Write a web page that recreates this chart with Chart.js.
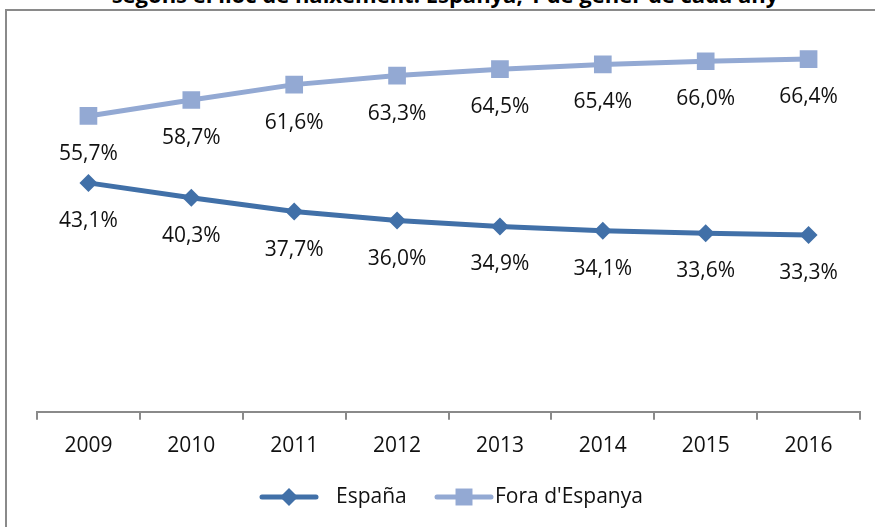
<!DOCTYPE html>
<html>
<head>
<meta charset="utf-8">
<script src="https://cdn.jsdelivr.net/npm/chart.js@4/dist/chart.umd.min.js"></script>
<style>
  html, body { margin: 0; padding: 0; background: #fff; overflow: hidden; }
  body { width: 875px; height: 527px; position: relative; font-family: 'Open Sans', sans-serif; }
  .title { position: absolute; left: 0; width: 890px; top: -17px; text-align: center; font-weight: bold; font-size: 22px; line-height: 22px; color: #000; white-space: nowrap; }
  .frame { position: absolute; left: 5px; top: 9px; width: 900px; height: 600px; border: 2px solid #8a8a8a; box-sizing: border-box; }
  .wrap { position: absolute; left: 0; top: 0; width: 875px; height: 527px; }
</style>
</head>
<body>
<div class="title">segons el lloc de naixement. Espanya, 1 de gener de cada any</div>
<div class="frame"></div>
<div class="wrap"><canvas id="chart" width="875" height="527"></canvas></div>
<script>
const years = ['2009', '2010', '2011', '2012', '2013', '2014', '2015', '2016'];
const espanya = [43.1, 40.3, 37.7, 36.0, 34.9, 34.1, 33.6, 33.3];
const foraEspanya = [55.7, 58.7, 61.6, 63.3, 64.5, 65.4, 66.0, 66.4];
const seriesNames = ['España', "Fora d'Espanya"];

const darkBlue = '#4170a8';
const lightBlue = '#93a9d3';
const font = "'Open Sans', sans-serif";

function fmt(v) {
  return v.toFixed(1).replace('.', ',') + '%';
}

// value labels under each point
const valueLabels = {
  id: 'valueLabels',
  afterDatasetsDraw(chart) {
    const ctx = chart.ctx;
    ctx.save();
    ctx.font = '21px ' + font;
    ctx.fillStyle = '#111';
    ctx.textAlign = 'center';
    ctx.textBaseline = 'middle';
    chart.data.datasets.forEach((ds, i) => {
      chart.getDatasetMeta(i).data.forEach((pt, j) => {
        ctx.fillText(fmt(ds.data[j]), pt.x, pt.y + 38);
      });
    });
    ctx.restore();
  }
};

// legend: line with marker in the middle, like the office chart
const lineLegend = {
  id: 'lineLegend',
  afterDraw(chart) {
    const ctx = chart.ctx;
    const y = 497;
    const items = [
      { x: 262, text: seriesNames[0], color: darkBlue, style: 'rectRot', r: 9, gap: 20 },
      { x: 437, text: seriesNames[1], color: lightBlue, style: 'rect', r: 12, gap: 4 },
    ];
    ctx.save();
    ctx.font = '21px ' + font;
    ctx.textBaseline = 'middle';
    items.forEach(it => {
      ctx.strokeStyle = it.color;
      ctx.lineWidth = 5;
      ctx.lineCap = 'round';
      ctx.beginPath();
      ctx.moveTo(it.x, y);
      ctx.lineTo(it.x + 54, y);
      ctx.stroke();
      ctx.fillStyle = it.color;
      Chart.helpers.drawPoint(ctx, { pointStyle: it.style, radius: it.r, borderWidth: 0 }, it.x + 27, y);
      ctx.fillStyle = '#111';
      ctx.fillText(it.text, it.x + 54 + it.gap, y);
    });
    ctx.restore();
  }
};

new Chart(document.getElementById('chart'), {
  type: 'line',
  data: {
    labels: years,
    datasets: [
      { label: seriesNames[0], data: espanya, borderColor: darkBlue, backgroundColor: darkBlue, borderWidth: 5, pointStyle: 'rectRot', pointRadius: 9, pointBorderWidth: 0, tension: 0 },
      { label: seriesNames[1], data: foraEspanya, borderColor: lightBlue, backgroundColor: lightBlue, borderWidth: 5, pointStyle: 'rect', pointRadius: 12.5, pointBorderWidth: 0, tension: 0 },
    ],
  },
  options: {
    responsive: false,
    animation: false,
    layout: { padding: { left: 37, right: 15, top: 40, bottom: 54 } },
    plugins: { legend: { display: false }, tooltip: { enabled: false } },
    scales: {
      x: {
        offset: true,
        grid: { drawOnChartArea: false, drawTicks: true, tickLength: 8, color: '#8a8a8a', lineWidth: 2, offset: true },
        border: { color: '#8a8a8a', width: 2 },
        ticks: { color: '#111', font: { family: font, size: 21 }, padding: 14, maxRotation: 0 },
      },
      y: { display: false, min: 0, max: 70 },
    },
  },
  plugins: [valueLabels, lineLegend],
});
</script>
</body>
</html>
